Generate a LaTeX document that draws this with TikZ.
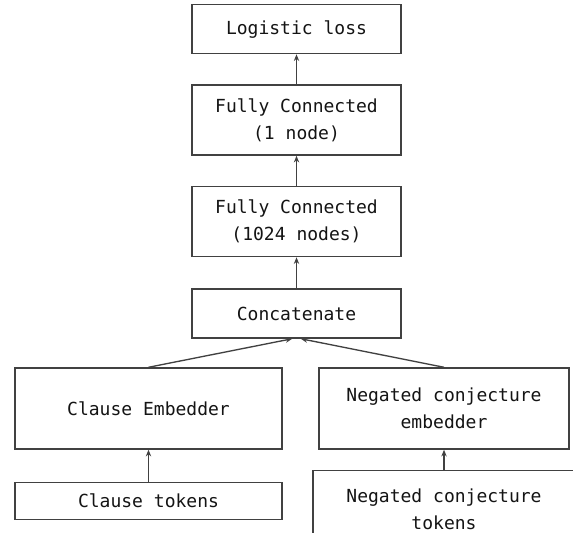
\documentclass[tikz,border=0pt]{standalone}
\usepackage{fontspec}
\setmonofont{DejaVu Sans Mono}
\usetikzlibrary{arrows.meta, positioning}
\definecolor{linegray}{RGB}{65,65,65}
\definecolor{textgray}{RGB}{20,20,20}
\tikzset{
  box/.style   = {draw=linegray, line width=1.1pt, fill=white, align=center,
                  text=textgray, font=\ttfamily\fontsize{13.5}{20}\selectfont,
                  inner sep=2pt, minimum width=156.75pt},
  arrow/.style = {-{Stealth[length=5pt, width=4pt]}, line width=1pt,
                  color=linegray},
}

\begin{document}
\begin{tikzpicture}[x=0.75pt, y=-0.75pt]
  \useasboundingbox (0,0) rectangle (573,532);
  % classifier stack
  \node[box, minimum height=36.75pt] (concat) at (296.5,313.5) {Concatenate};
  \node[box, minimum height=52.5pt, above=23.25pt of concat] (fc1024)
    {Fully Connected\\(1024 nodes)};
  \node[box, minimum height=52.5pt, above=22.5pt of fc1024] (fc1)
    {Fully Connected\\(1 node)};
  \node[box, minimum height=36.75pt, above=22.5pt of fc1] (loss) {Logistic loss};

  % input branches
  \node[box, minimum width=200.25pt, minimum height=60.75pt] (clemb) at (148.5,408.5)
    {Clause Embedder};
  \node[box, minimum width=200.25pt, minimum height=27.75pt, below=24pt of clemb] (cltok)
    {Clause tokens};
  \node[box, minimum width=187.5pt, minimum height=60.75pt] (ncemb) at (444,408.5)
    {Negated conjecture\\embedder};
  \node[box, minimum width=196.5pt, minimum height=58.5pt, below=15pt of ncemb] (nctok)
    {Negated conjecture\\tokens};

  \draw[arrow] (concat) -- (fc1024);
  \draw[arrow] (fc1024) -- (fc1);
  \draw[arrow] (fc1) -- (loss);
  \draw[arrow] (clemb.north) -- ([xshift=-3.2pt]concat.south);
  \draw[arrow] (ncemb.north) -- ([xshift=3.2pt]concat.south);
  \draw[arrow] (cltok) -- (clemb);
  \draw[arrow] (nctok) -- (ncemb);
\end{tikzpicture}
\end{document}
